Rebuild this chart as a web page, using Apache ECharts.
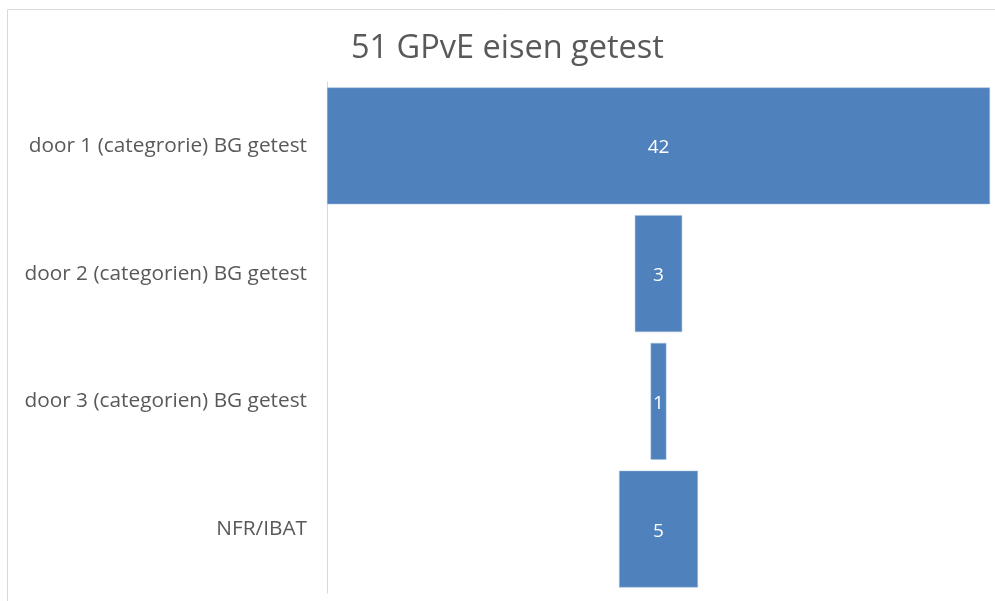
<!DOCTYPE html>
<html lang="nl">
<head>
  <meta charset="UTF-8">
  <title>51 GPvE eisen getest</title>
  <script src="https://cdn.jsdelivr.net/npm/echarts@6/dist/echarts.min.js"></script>
  <style>
    html, body { margin: 0; padding: 0; background: #fff; }
    #chart { width: 995px; height: 601px; }
  </style>
</head>
<body>
  <div id="chart"></div>
<script>
// funnel stages (top to bottom)
const categories = [
  'door 1 (categrorie) BG getest',
  'door 2 (categorien) BG getest',
  'door 3 (categorien) BG getest',
  'NFR/IBAT'
];
const values = [42, 3, 1, 5];
const titleText = '51 GPvE eisen getest';

const maxVal = Math.max(...values);
// invisible spacer so every bar sits centred, like an Excel funnel
const spacer = values.map(v => (maxVal - v) / 2);

let chart = echarts.init(document.getElementById('chart'));
let option = {
  animation: false,
  title: {
    text: titleText,
    left: 346,
    top: 27,
    textStyle: {
      fontFamily: 'Open Sans',
      fontSize: 32.5,
      fontWeight: 'normal',
      color: '#595959'
    }
  },
  graphic: [{
    type: 'rect',
    shape: { x: 7.5, y: 9.5, width: 1000, height: 600 },
    style: { fill: 'none', stroke: '#d9d9d9', lineWidth: 1 },
    silent: true
  }],
  grid: { left: 327, right: 5, top: 82, bottom: 8, containLabel: false },
  xAxis: {
    type: 'value',
    min: 0,
    max: maxVal,
    show: false
  },
  yAxis: {
    type: 'category',
    inverse: true,
    data: categories,
    axisLine: { show: true, lineStyle: { color: '#d9d9d9', width: 1 } },
    axisTick: { show: false },
    axisLabel: {
      margin: 20,
      fontFamily: 'Open Sans',
      fontSize: 20.8,
      color: '#595959'
    }
  },
  series: [
    {
      type: 'bar',
      stack: 'funnel',
      data: spacer,
      itemStyle: { color: 'transparent' },
      silent: true,
      barCategoryGap: '8.5%'
    },
    {
      type: 'bar',
      stack: 'funnel',
      data: values,
      barCategoryGap: '8.5%',
      itemStyle: { color: '#4f81bd', borderColor: '#a9c0dc', borderWidth: 0.5 },
      label: {
        show: true,
        position: 'inside',
        offset: [0, 2],
        fontFamily: 'Open Sans',
        fontSize: 19,
        color: '#ffffff'
      }
    }
  ]
};
chart.setOption(option);
</script>
</body>
</html>
